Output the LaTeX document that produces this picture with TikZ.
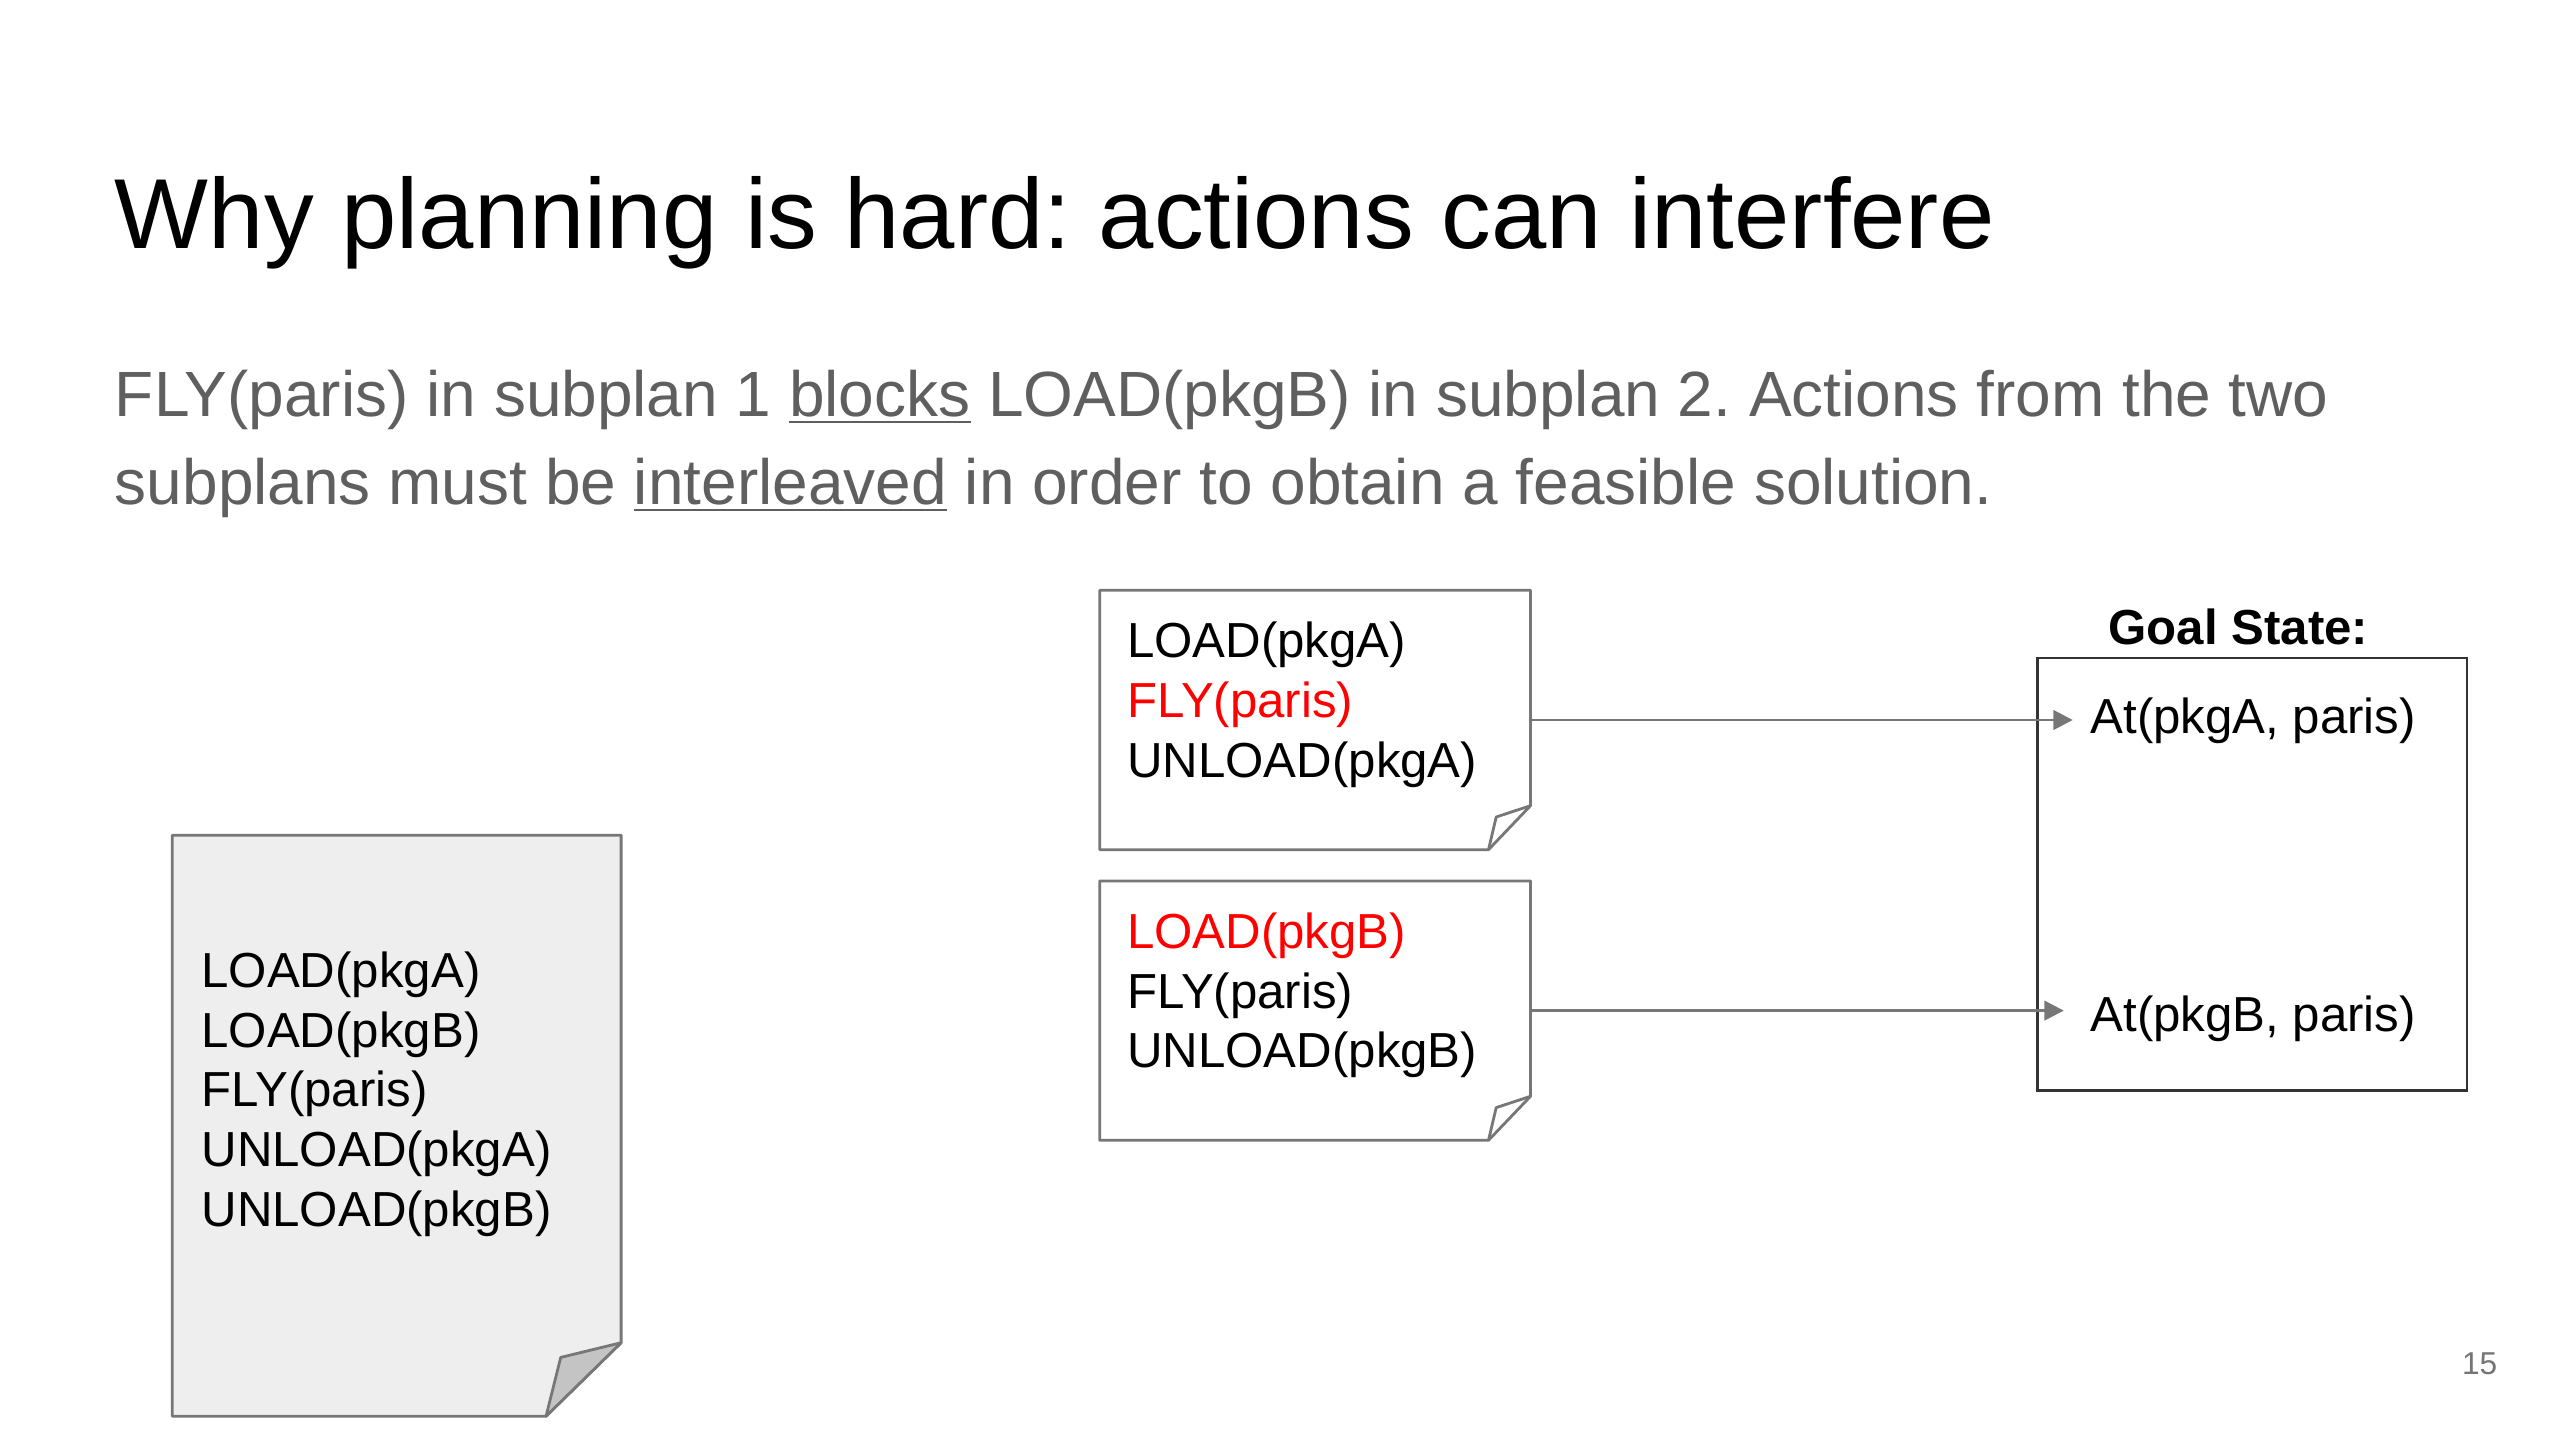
\documentclass[tikz,border=0pt]{standalone}
\usepackage{fontspec}
\setmainfont{Liberation Sans}
\usetikzlibrary{arrows.meta,positioning,calc}
\definecolor{subgray}{HTML}{5F5F5F}
\definecolor{linegray}{HTML}{777777}
\definecolor{pagegray}{HTML}{EEEEEE}
\definecolor{foldgray}{HTML}{C4C4C4}
\definecolor{numgray}{HTML}{757575}
\frenchspacing
\tikzset{
  page/.style={inner sep=0pt, minimum width=4.294cm, minimum height=2.580cm},
  pageline/.style={draw=linegray, line width=0.8pt, line join=round},
  stepline/.style={anchor=base west, inner sep=0pt, font=\fontsize{14}{17}\selectfont},
  flow/.style={-{Triangle[length=5.5pt, width=5.5pt]}, draw=linegray, line width=0.8pt},
}

\begin{document}
\begin{tikzpicture}[x=0.016327cm, y=-0.016327cm]
  \useasboundingbox (0,0) rectangle (1568,882);
  \fill[white] (0,0) rectangle (1568,882);

  % heading and caption
  \node[anchor=base west, inner sep=0pt, font=\fontsize{28.3}{34}\selectfont] (title) at (70,152)
    {Why planning is hard: actions can interfere};
  \node[anchor=base west, inner sep=0pt, text=subgray, font=\fontsize{18.2}{25}\selectfont] (cap1) at (70,255)
    {FLY(paris) in subplan 1 \underline{blocks} LOAD(pkgB) in subplan 2. Actions from the two};
  \node[anchor=base west, inner sep=0pt, text=subgray, font=\fontsize{18.2}{25}\selectfont] (cap2) at (70,309)
    {subplans must be \underline{interleaved} in order to obtain a feasible solution.};

  % interleaved plan (grey page)
  \node[page, minimum width=4.474cm, minimum height=5.796cm] (full) at (243,689.5) {};
  \draw[pageline, fill=pagegray] (full.north west) -- (full.north east)
    -- ([yshift=0.735cm]full.south east) -- ([xshift=-0.751cm]full.south east)
    -- (full.south west) -- cycle;
  \draw[pageline, fill=foldgray] ([yshift=0.735cm]full.south east)
    -- ([shift={(-0.604cm,0.588cm)}]full.south east) -- ([xshift=-0.751cm]full.south east) -- cycle;
  \foreach \i/\txt in {0/LOAD(pkgA), 1/LOAD(pkgB), 2/FLY(paris), 3/UNLOAD(pkgA), 4/UNLOAD(pkgB)}
    \node[stepline] (full-\i) at (123,605+36.5*\i) {\txt};

  % the two subplans
  \foreach \n/\y in {sub1/441, sub2/619}{
    \node[page] (\n) at (805.5,\y) {};
    \draw[pageline] (\n.north west) -- (\n.north east)
      -- ([yshift=0.44cm]\n.south east) -- ([xshift=-0.42cm]\n.south east)
      -- (\n.south west) -- cycle;
    \draw[pageline] ([yshift=0.44cm]\n.south east)
      -- ([shift={(-0.343cm,0.327cm)}]\n.south east) -- ([xshift=-0.42cm]\n.south east);
  }
  \foreach \i/\txt/\col in {0/LOAD(pkgA)/black, 1/FLY(paris)/red, 2/UNLOAD(pkgA)/black}
    \node[stepline, text=\col] (sub1-\i) at (690,403+36.5*\i) {\txt};
  \foreach \i/\txt/\col in {0/LOAD(pkgB)/red, 1/FLY(paris)/black, 2/UNLOAD(pkgB)/black}
    \node[stepline, text=\col] (sub2-\i) at (690,581+36.5*\i) {\txt};

  % goal state
  \node[draw=black!80, line width=0.8pt, inner sep=0pt, minimum width=4.294cm, minimum height=4.327cm]
    (goal) at (1379.5,535.5) {};
  \node[anchor=base, inner sep=0pt, font=\fontsize{14}{17}\selectfont\bfseries] (goalhead) at (1371,395) {Goal State:};
  \node[stepline] (atA) at (1280,449) {At(pkgA, paris)};
  \node[stepline] (atB) at (1280,632) {At(pkgB, paris)};

  \draw[flow] (sub1.east) -- ([xshift=-0.17cm]sub1.east -| atA.west);
  \draw[flow] (sub2.east) -- ([xshift=-0.26cm]sub2.east -| atB.west);

  \node[anchor=base east, inner sep=0pt, text=numgray, font=\fontsize{9}{11}\selectfont] (pagenum) at (1530,842) {15};
\end{tikzpicture}
\end{document}
